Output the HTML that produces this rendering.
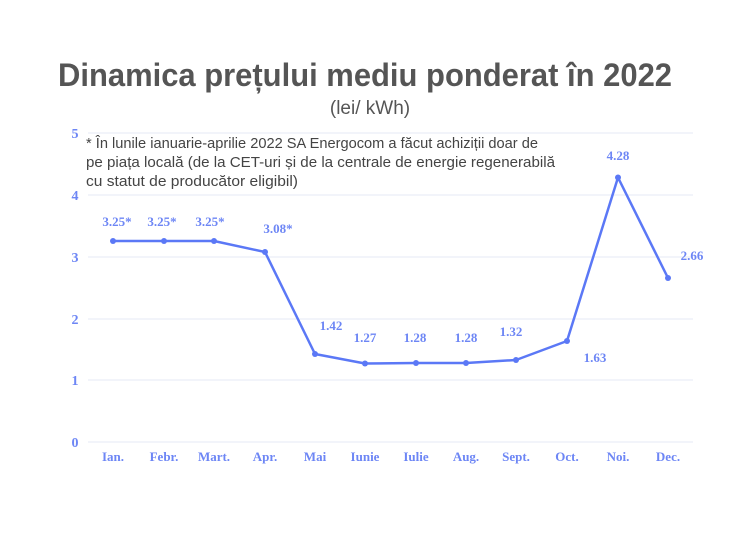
<!DOCTYPE html><html><head><meta charset="utf-8"><style>body{margin:0;background:#fff}</style></head><body>
<svg width="740" height="555" xmlns="http://www.w3.org/2000/svg" style="display:block">
<rect width="740" height="555" fill="#fff"/>
<text x="58" y="86" textLength="614" lengthAdjust="spacingAndGlyphs" font-family="Liberation Sans, sans-serif" font-size="32" font-weight="bold" fill="#555">Dinamica prețului mediu ponderat în 2022</text>
<text x="370" y="114" text-anchor="middle" font-family="Liberation Sans, sans-serif" font-size="19" fill="#555">(lei/ kWh)</text>
<g stroke="#e6e8f5" stroke-width="1">
<line x1="88" y1="133" x2="693" y2="133"/><line x1="88" y1="195" x2="693" y2="195"/><line x1="88" y1="257" x2="693" y2="257"/><line x1="88" y1="319" x2="693" y2="319"/><line x1="88" y1="380" x2="693" y2="380"/><line x1="88" y1="442" x2="693" y2="442"/>
</g>
<g font-family="Liberation Serif, serif" font-weight="bold" font-size="14" fill="#6d86f5" text-anchor="middle">
<text x="75" y="138">5</text><text x="75" y="200">4</text><text x="75" y="262">3</text><text x="75" y="324">2</text><text x="75" y="385">1</text><text x="75" y="447">0</text>
<g font-size="13">
<text x="113" y="461">Ian.</text><text x="164" y="461">Febr.</text><text x="214" y="461">Mart.</text><text x="265" y="461">Apr.</text><text x="315" y="461">Mai</text><text x="365" y="461">Iunie</text><text x="416" y="461">Iulie</text><text x="466" y="461">Aug.</text><text x="516" y="461">Sept.</text><text x="567" y="461">Oct.</text><text x="618" y="461">Noi.</text><text x="668" y="461">Dec.</text>
<text x="117" y="226">3.25*</text><text x="162" y="226">3.25*</text><text x="210" y="226">3.25*</text><text x="278" y="233">3.08*</text><text x="331" y="330">1.42</text><text x="365" y="342">1.27</text><text x="415" y="342">1.28</text><text x="466" y="342">1.28</text><text x="511" y="336">1.32</text><text x="595" y="362">1.63</text><text x="618" y="160">4.28</text><text x="692" y="260">2.66</text>
</g></g>
<polyline fill="none" stroke="#5b78f6" stroke-width="2.5" stroke-linejoin="round" points="113,241 164,241 214,241 265,252 315,354 365,363.5 416,363 466,363 516,360 567,341 618,177.5 668,278"/>
<g fill="#5b78f6"><circle cx="113" cy="241" r="3"/><circle cx="164" cy="241" r="3"/><circle cx="214" cy="241" r="3"/><circle cx="265" cy="252" r="3"/><circle cx="315" cy="354" r="3"/><circle cx="365" cy="363.5" r="3"/><circle cx="416" cy="363" r="3"/><circle cx="466" cy="363" r="3"/><circle cx="516" cy="360" r="3"/><circle cx="567" cy="341" r="3"/><circle cx="618" cy="177.5" r="3"/><circle cx="668" cy="278" r="3"/></g>
<g font-family="Liberation Sans, sans-serif" font-size="14.5" fill="#444">
<text x="86" y="148" textLength="452" lengthAdjust="spacingAndGlyphs">* În lunile ianuarie-aprilie 2022 SA Energocom a făcut achiziții doar de</text>
<text x="86" y="167" textLength="469" lengthAdjust="spacingAndGlyphs">pe piața locală (de la CET-uri și de la centrale de energie regenerabilă</text>
<text x="86" y="186" textLength="212" lengthAdjust="spacingAndGlyphs">cu statut de producător eligibil)</text>
</g>
</svg></body></html>
